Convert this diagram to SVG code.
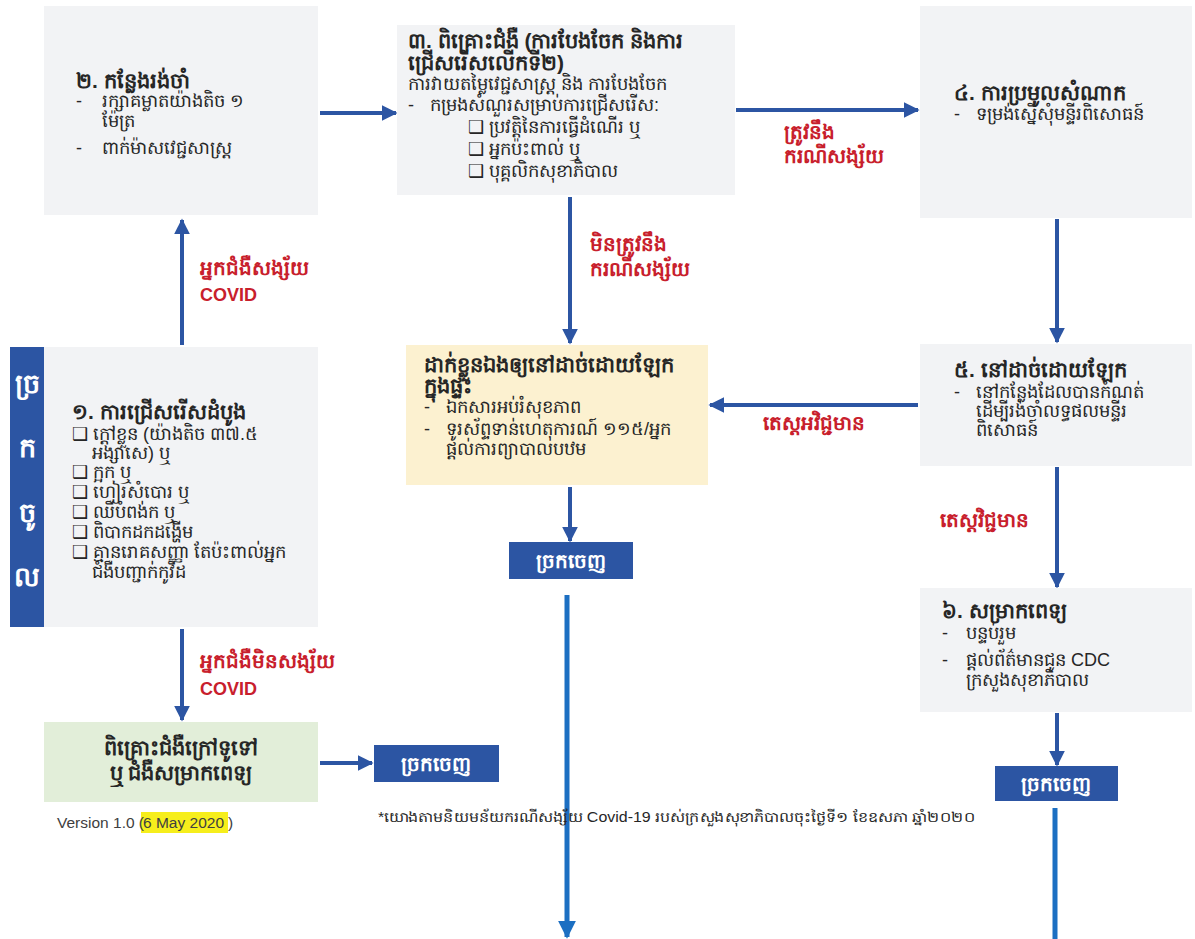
<svg xmlns="http://www.w3.org/2000/svg" width="1195" height="939" viewBox="0 0 1195 939">
<style>
.box{fill:#f2f3f5}
.t{font-family:"Liberation Sans","Noto Sans",sans-serif;fill:#262626;font-size:18px}
.h{font-weight:bold;font-size:21px}
.lbl{font-family:"Liberation Sans","Noto Sans",sans-serif;fill:#c8202c;font-size:20px;font-weight:bold}
.cv{font-size:18px}
.exit{fill:#2c55a3}
.et{font-family:"Liberation Sans","Noto Sans",sans-serif;fill:#ffffff;font-size:20px;font-weight:bold}
.side{font-size:27px}
.ver{font-family:"Liberation Sans","Noto Sans",sans-serif;fill:#404040;font-size:15.5px}
.c{stroke:#2c55a3;stroke-width:4;fill:none}
.c2{stroke:#1c6fc2;stroke-width:5;fill:none}
</style>
<defs>
<marker id="ah" viewBox="0 0 10 10" refX="9" refY="5" markerWidth="4" markerHeight="4" orient="auto"><path d="M0,0 L10,5 L0,10 z" fill="#2c55a3"/></marker>
<marker id="ah2" viewBox="0 0 10 10" refX="9" refY="5" markerWidth="3.6" markerHeight="3.6" orient="auto"><path d="M0,0 L10,5 L0,10 z" fill="#1c6fc2"/></marker>
</defs>
<rect width="1195" height="939" fill="#ffffff"/>

<g id="connectors">
<line class="c" x1="182" y1="345" x2="182" y2="220" marker-end="url(#ah)"/>
<line class="c" x1="182" y1="629" x2="182" y2="720" marker-end="url(#ah)"/>
<line class="c" x1="320" y1="763" x2="372" y2="763" marker-end="url(#ah)"/>
<line class="c" x1="320" y1="113" x2="396" y2="113" marker-end="url(#ah)"/>
<line class="c" x1="736" y1="110" x2="918" y2="110" marker-end="url(#ah)"/>
<line class="c" x1="570" y1="197" x2="570" y2="343" marker-end="url(#ah)"/>
<line class="c" x1="1057" y1="219" x2="1057" y2="342" marker-end="url(#ah)"/>
<line class="c" x1="918" y1="405" x2="710" y2="405" marker-end="url(#ah)"/>
<line class="c" x1="1057" y1="467" x2="1057" y2="587" marker-end="url(#ah)"/>
<line class="c" x1="1057" y1="713" x2="1057" y2="765" marker-end="url(#ah)"/>
<line class="c" x1="570" y1="487" x2="570" y2="541" marker-end="url(#ah)"/>
<line class="c2" x1="567" y1="595" x2="567" y2="937" marker-end="url(#ah2)"/>
<line class="c2" x1="1055" y1="808" x2="1055" y2="939"/>
<text class="lbl" x="200" y="275">អ្នកជំងឺសង្ស័យ</text>
<text class="lbl cv" x="200" y="301">COVID</text>
<text class="lbl" x="784" y="139">ត្រូវនឹង</text>
<text class="lbl" x="784" y="163">ករណីសង្ស័យ</text>
<text class="lbl" x="590" y="251">មិនត្រូវនឹង</text>
<text class="lbl" x="590" y="276">ករណីសង្ស័យ</text>
<text class="lbl" x="763" y="430">តេស្តអវិជ្ជមាន</text>
<text class="lbl" x="940" y="527">តេស្តវិជ្ជមាន</text>
<text class="lbl" x="200" y="668">អ្នកជំងឺមិនសង្ស័យ</text>
<text class="lbl cv" x="200" y="695">COVID</text>
</g>

<g id="node2">
<rect class="box" x="44" y="6" width="274" height="209"/>
<text class="t h" x="76" y="88">២. កន្លែងរង់ចាំ</text>
<text class="t" x="76" y="107">-</text><text class="t" x="102" y="107">រក្សាគម្លាតយ៉ាងតិច ១</text>
<text class="t" x="102" y="127">ម៉ែត្រ</text>
<text class="t" x="76" y="154">-</text><text class="t" x="102" y="154">ពាក់ម៉ាសវេជ្ជសាស្ត្រ</text>
</g>

<g id="node3">
<rect class="box" x="397" y="25" width="338" height="170"/>
<text class="t h" x="408" y="48">៣. ពិគ្រោះជំងឺ (ការបែងចែក និងការ</text>
<text class="t h" x="408" y="70">ជ្រើសរើសលើកទី២)</text>
<text class="t" x="408" y="90">ការវាយតម្លៃវេជ្ជសាស្ត្រ និង ការបែងចែក</text>
<text class="t" x="408" y="111">-</text><text class="t" x="430" y="111">កម្រងសំណួរសម្រាប់ការជ្រើសរើស:</text>
<text class="t" x="468" y="133">❑ ប្រវត្តិនៃការធ្វើដំណើរ ឬ</text>
<text class="t" x="468" y="155">❑ អ្នកប៉ះពាល់ ឬ</text>
<text class="t" x="468" y="177">❑ បុគ្គលិកសុខាភិបាល</text>
</g>

<g id="node4">
<rect class="box" x="920" y="6" width="272" height="212"/>
<text class="t h" x="954" y="100">៤. ការប្រមូលសំណាក</text>
<text class="t" x="954" y="120">-</text><text class="t" x="976" y="120">ទម្រង់ស្នើសុំមន្ទីរពិសោធន៍</text>
</g>

<g id="entry">
<rect x="10" y="347" width="34" height="280" fill="#2c55a3"/>
<text class="et side" x="27" y="393" text-anchor="middle">ច្រ</text>
<text class="et side" x="27" y="457" text-anchor="middle">ក</text>
<text class="et side" x="27" y="522" text-anchor="middle">ចូ</text>
<text class="et side" x="27" y="586" text-anchor="middle">ល</text>
</g>

<g id="node1">
<rect class="box" x="44" y="347" width="274" height="280"/>
<text class="t h" x="72" y="419">១. ការជ្រើសរើសដំបូង</text>
<text class="t" x="72" y="440">❑ ក្តៅខ្លួន (យ៉ាងតិច ៣៧.៥</text>
<text class="t" x="92" y="459">អង្សាសេ) ឬ</text>
<text class="t" x="72" y="478">❑ ក្អក ឬ</text>
<text class="t" x="72" y="498">❑ ហៀរសំបោរ ឬ</text>
<text class="t" x="72" y="518">❑ ឈឺបំពង់ក ឬ</text>
<text class="t" x="72" y="538">❑ ពិបាកដកដង្ហើម</text>
<text class="t" x="72" y="558">❑ គ្មានរោគសញ្ញា តែប៉ះពាល់អ្នក</text>
<text class="t" x="92" y="578">ជំងឺបញ្ជាក់កូវីដ</text>
</g>

<g id="isolate-home">
<rect x="406" y="345" width="302" height="140" fill="#fcf1d0"/>
<text class="t h" x="424" y="372">ដាក់ខ្លួនឯងឲ្យនៅដាច់ដោយឡែក</text>
<text class="t h" x="424" y="393">ក្នុងផ្ទះ</text>
<text class="t" x="424" y="413">-</text><text class="t" x="446" y="413">ឯកសារអប់រំសុខភាព</text>
<text class="t" x="424" y="435">-</text><text class="t" x="446" y="435">ទូរស័ព្ទទាន់ហេតុការណ៍ ១១៥/អ្នក</text>
<text class="t" x="446" y="455">ផ្តល់ការព្យាបាលបឋម</text>
</g>

<g id="exit-mid">
<rect class="exit" x="509" y="542" width="124" height="37"/>
<text class="et" x="571" y="568" text-anchor="middle">ច្រកចេញ</text>
</g>

<g id="node5">
<rect class="box" x="920" y="344" width="272" height="122"/>
<text class="t h" x="954" y="377">៥. នៅដាច់ដោយឡែក</text>
<text class="t" x="954" y="398">-</text><text class="t" x="976" y="398">នៅកន្លែងដែលបានកំណត់</text>
<text class="t" x="976" y="417">ដើម្បីរង់ចាំលទ្ធផលមន្ទីរ</text>
<text class="t" x="976" y="436">ពិសោធន៍</text>
</g>

<g id="node6">
<rect class="box" x="920" y="588" width="272" height="124"/>
<text class="t h" x="942" y="618">៦. សម្រាកពេទ្យ</text>
<text class="t" x="942" y="639">-</text><text class="t" x="966" y="639">បន្ទប់រួម</text>
<text class="t" x="942" y="666">-</text><text class="t" x="966" y="666">ផ្តល់ព័ត៌មានជូន CDC</text>
<text class="t" x="966" y="686">ក្រសួងសុខាភិបាល</text>
</g>

<g id="exit-right">
<rect class="exit" x="995" y="766" width="123" height="35"/>
<text class="et" x="1056" y="791" text-anchor="middle">ច្រកចេញ</text>
</g>

<g id="outpatient">
<rect x="44" y="722" width="274" height="80" fill="#e2eed9"/>
<text class="t h" x="181" y="755" text-anchor="middle">ពិគ្រោះជំងឺក្រៅទូទៅ</text>
<text class="t h" x="181" y="780" text-anchor="middle">ឬ ជំងឺសម្រាកពេទ្យ</text>
</g>

<g id="exit-left">
<rect class="exit" x="374" y="745" width="125" height="37"/>
<text class="et" x="436" y="771" text-anchor="middle">ច្រកចេញ</text>
</g>

<g id="notes">
<rect x="141" y="812" width="87" height="21" fill="#f6ee1c"/>
<text class="ver" x="57" y="828">Version 1.0 (</text>
<text class="ver" x="143" y="828">6 May 2020</text>
<text class="ver" x="228" y="828">)</text>
<text class="t" x="378" y="822" style="font-size:14px" textLength="597" lengthAdjust="spacingAndGlyphs">*យោងតាមនិយមន័យករណីសង្ស័យ Covid-19 របស់ក្រសួងសុខាភិបាលចុះថ្ងៃទី១ ខែឧសភា ឆ្នាំ២០២០</text>
</g>
</svg>
